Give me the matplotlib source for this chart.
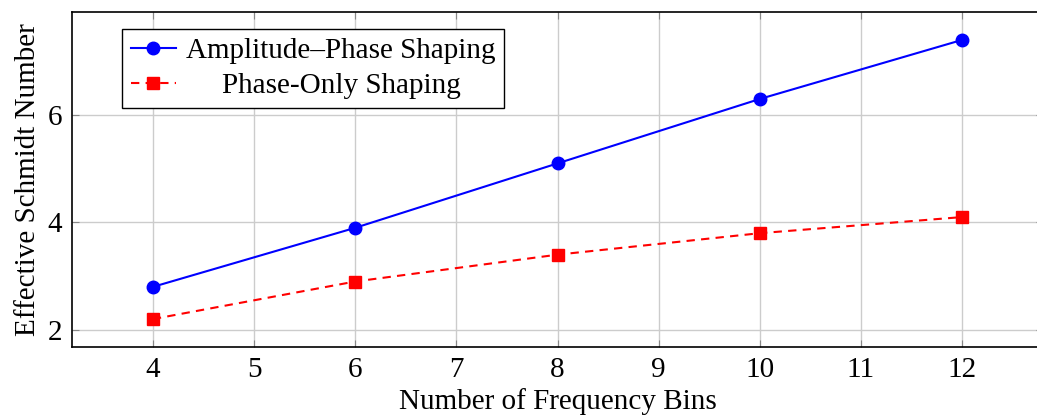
import matplotlib
matplotlib.use('Agg')
import matplotlib.pyplot as plt

bins = [4, 6, 8, 10, 12]
amp_phase = [2.8, 3.9, 5.1, 6.3, 7.4]
phase_only = [2.2, 2.9, 3.4, 3.8, 4.1]

plt.rcParams['font.family'] = ['Liberation Serif', 'DejaVu Serif']
plt.rcParams['font.size'] = 21

fig = plt.figure(figsize=(10.37, 4.19), dpi=100)
ax = fig.add_axes([72 / 1037, 1 - 347 / 419, (1043 - 72) / 1037, (347 - 12) / 419])

ax.plot(bins, amp_phase, color='blue', lw=1.5, marker='o', ms=9,
        label='Amplitude–Phase Shaping')
ax.plot(bins, phase_only, color='red', lw=1.5, ls=(0, (4, 3)), marker='s', ms=8.5,
        label='Phase-Only Shaping')

ax.set_xlim(3.2, 12.8)
ax.set_ylim(1.68, 7.92)
ax.set_xticks(range(4, 13))
ax.set_yticks([2, 4, 6])
ax.grid(True, color='#cccccc', lw=1)
ax.set_axisbelow(True)
ax.tick_params(direction='in', length=5, color='#888888', top=True, right=True,
               labelsize=21, pad=7)
for s in ax.spines.values():
    s.set_linewidth(1.2)
ax.set_xlabel('Number of Frequency Bins', labelpad=4)
ax.set_ylabel('Effective Schmidt Number', labelpad=5)

leg = ax.legend(loc='upper left', bbox_to_anchor=(50 / 971, 1 - 17 / 335),
                borderaxespad=0, fancybox=False, framealpha=1, edgecolor='black',
                handlelength=1.55, handletextpad=0.35, labelspacing=0.3,
                borderpad=0.3, fontsize=21)
leg.get_frame().set_linewidth(1.0)

# center the shorter label in the legend column, pgfplots style
fig.canvas.draw()
r = fig.canvas.get_renderer()
texts = leg.get_texts()
w0 = texts[0].get_window_extent(r).width
w1 = texts[1].get_window_extent(r).width
texts[1].set_position(((w0 - w1) / 2, 0))

fig.savefig('out.png', dpi=100)
